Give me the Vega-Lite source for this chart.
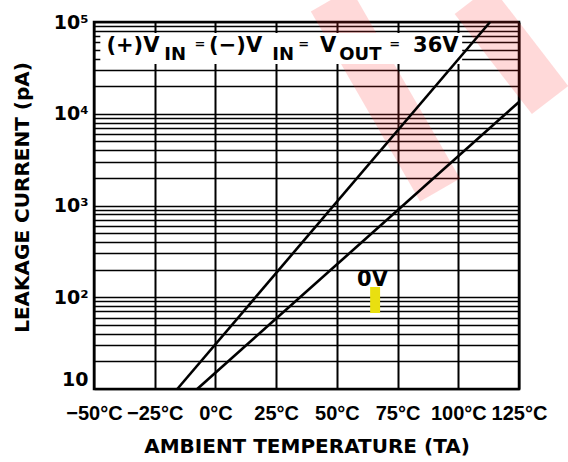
{
  "$schema": "https://vega.github.io/schema/vega-lite/v6.json",
  "width": 425,
  "height": 367,
  "autosize": "none",
  "padding": {"left": 94, "top": 22, "right": 49, "bottom": 73},
  "background": "white",
  "config": {
    "view": {"stroke": "black", "strokeWidth": 2.5},
    "font": "DejaVu Sans"
  },
  "datasets": {
    "curves": [
      {"series": "upper", "temp": -15.7, "current": 10},
      {"series": "upper", "temp": 113.1, "current": 100000},
      {"series": "lower", "temp": -7.5, "current": 10},
      {"series": "lower", "temp": 125, "current": 13430}
    ],
    "watermark": [
      {"band": "a", "temp": 47.5, "current": 173800},
      {"band": "a", "temp": 92.5, "current": 1476},
      {"band": "b", "temp": 106.0, "current": 173800},
      {"band": "b", "temp": 137.8, "current": 14100}
    ],
    "boxes": [
      {"kind": "label", "t1": -47.4, "t2": 101.6, "c1": 34800, "c2": 75900}
    ],
    "highlight": [
      {"t1": 63.7, "t2": 67.8, "c1": 67.3, "c2": 129.4}
    ],
    "mainText": [
      {"text": "(+)V", "temp": -44.9, "current": 47100},
      {"text": "(−)V", "temp": -2.6, "current": 47100},
      {"text": "V", "temp": 43.1, "current": 47100},
      {"text": "36V", "temp": 81.4, "current": 47100},
      {"text": "0V", "temp": 58.3, "current": 132.7}
    ],
    "subText": [
      {"text": "IN", "temp": -21.1, "current": 38550},
      {"text": "IN", "temp": 23.4, "current": 38550},
      {"text": "OUT", "temp": 51.0, "current": 38550}
    ],
    "eqText": [
      {"text": "=", "temp": -8.6, "current": 52000},
      {"text": "=", "temp": 34.1, "current": 52000},
      {"text": "=", "temp": 71.6, "current": 52000}
    ]
  },
  "layer": [
    {
      "data": {"name": "watermark"},
      "mark": {"type": "line", "color": "#ff2a2a", "opacity": 0.18, "strokeWidth": 46, "strokeCap": "butt", "clip": false},
      "encoding": {
        "x": {
          "field": "temp", "type": "quantitative",
          "scale": {"domain": [-50, 125], "nice": false, "zero": false},
          "axis": {
            "title": "AMBIENT TEMPERATURE (TA)",
            "values": [-50, -25, 0, 25, 50, 75, 100, 125],
            "labelExpr": "(datum.value < 0 ? '−' + abs(datum.value) : datum.value) + '°C'",
            "grid": true, "gridColor": "black", "gridWidth": 2,
            "domain": false, "ticks": false,
            "labelFont": "Liberation Sans", "labelFontWeight": "bold", "labelFontSize": 20, "labelColor": "black",
            "labelPadding": 14, "labelOverlap": false, "labelFlush": false, "labelBound": false,
            "titleFont": "DejaVu Sans", "titleFontWeight": "bold", "titleFontSize": 20, "titleColor": "black",
            "titlePadding": 13
          }
        },
        "y": {
          "field": "current", "type": "quantitative",
          "scale": {"type": "log", "domain": [10, 100000], "nice": false},
          "axis": {
            "title": "LEAKAGE CURRENT (pA)",
            "values": [10, 20, 30, 40, 50, 60, 70, 80, 90, 100, 200, 300, 400, 500, 600, 700, 800, 900, 1000, 2000, 3000, 4000, 5000, 6000, 7000, 8000, 9000, 10000, 20000, 30000, 40000, 50000, 60000, 70000, 80000, 90000, 100000],
            "labelExpr": "datum.value == 10 ? '10' : datum.value == 100 ? '10²' : datum.value == 1000 ? '10³' : datum.value == 10000 ? '10⁴' : datum.value == 100000 ? '10⁵' : ''",
            "grid": true, "gridColor": "black", "gridWidth": 1.3,
            "domain": false, "ticks": false,
            "labelFont": "DejaVu Sans", "labelFontWeight": "bold", "labelFontSize": 19, "labelColor": "black",
            "labelPadding": 6, "labelOverlap": false, "labelFlush": false, "labelBound": false,
            "labelBaseline": {"condition": {"test": "datum.value == 10", "value": "bottom"}, "value": "middle"},
            "titleFont": "DejaVu Sans", "titleFontWeight": "bold", "titleFontSize": 20, "titleColor": "black",
            "titleX": -66, "titleY": 175, "titleAngle": -90, "titleBaseline": "alphabetic", "titleAlign": "center"
          }
        },
        "detail": {"field": "band", "type": "nominal"}
      }
    },
    {
      "data": {"name": "boxes"},
      "mark": {"type": "rect", "color": "white"},
      "encoding": {
        "x": {"field": "t1", "type": "quantitative"},
        "x2": {"field": "t2"},
        "y": {"field": "c1", "type": "quantitative"},
        "y2": {"field": "c2"}
      }
    },
    {
      "data": {"name": "highlight"},
      "mark": {"type": "rect", "color": "#e9df10"},
      "encoding": {
        "x": {"field": "t1", "type": "quantitative"},
        "x2": {"field": "t2"},
        "y": {"field": "c1", "type": "quantitative"},
        "y2": {"field": "c2"}
      }
    },
    {
      "data": {"name": "curves"},
      "mark": {"type": "line", "color": "black", "strokeWidth": 2.6},
      "encoding": {
        "x": {"field": "temp", "type": "quantitative"},
        "y": {"field": "current", "type": "quantitative"},
        "detail": {"field": "series", "type": "nominal"}
      }
    },
    {
      "data": {"name": "mainText"},
      "mark": {"type": "text", "font": "DejaVu Sans", "fontWeight": "bold", "fontSize": 21, "align": "left", "baseline": "alphabetic", "color": "black"},
      "encoding": {
        "x": {"field": "temp", "type": "quantitative"},
        "y": {"field": "current", "type": "quantitative"},
        "text": {"field": "text"}
      }
    },
    {
      "data": {"name": "subText"},
      "mark": {"type": "text", "font": "DejaVu Sans", "fontWeight": "bold", "fontSize": 18, "align": "left", "baseline": "alphabetic", "color": "black"},
      "encoding": {
        "x": {"field": "temp", "type": "quantitative"},
        "y": {"field": "current", "type": "quantitative"},
        "text": {"field": "text"}
      }
    },
    {
      "data": {"name": "eqText"},
      "mark": {"type": "text", "font": "DejaVu Sans", "fontWeight": "bold", "fontSize": 13, "align": "left", "baseline": "alphabetic", "color": "black"},
      "encoding": {
        "x": {"field": "temp", "type": "quantitative"},
        "y": {"field": "current", "type": "quantitative"},
        "text": {"field": "text"}
      }
    }
  ]
}
